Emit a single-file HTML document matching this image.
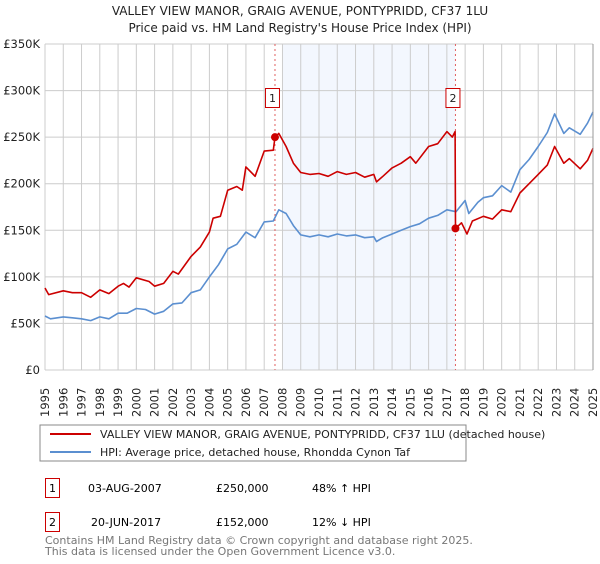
<!DOCTYPE html>
<html><head><meta charset="utf-8"><style>
body{margin:0;background:#fff;font-family:"DejaVu Sans","Liberation Sans",sans-serif;}
svg text{font-family:"DejaVu Sans","Liberation Sans",sans-serif;}
</style></head><body>
<svg id="chart" width="600" height="560" xmlns="http://www.w3.org/2000/svg">
<text x="300" y="15" text-anchor="middle" font-size="12" fill="#222">VALLEY VIEW MANOR, GRAIG AVENUE, PONTYPRIDD, CF37 1LU</text>
<text x="300" y="32" text-anchor="middle" font-size="12" fill="#222">Price paid vs. HM Land Registry's House Price Index (HPI)</text>
<g id="grid"></g><g id="series"></g><g id="axes"></g>
<rect x="40" y="425" width="426" height="36" fill="#fff" stroke="#888"/>
<line x1="50" y1="434" x2="91" y2="434" stroke="#cc0000" stroke-width="2"/>
<text x="100" y="438" font-size="11" fill="#222">VALLEY VIEW MANOR, GRAIG AVENUE, PONTYPRIDD, CF37 1LU (detached house)</text>
<line x1="50" y1="452" x2="91" y2="452" stroke="#5b8fd0" stroke-width="2"/>
<text x="100" y="456" font-size="11" fill="#222">HPI: Average price, detached house, Rhondda Cynon Taf</text>
<g>
<rect x="45.5" y="478.5" width="14" height="19" fill="#fff" stroke="#cc0000"/>
<text x="52.5" y="492" text-anchor="middle" font-size="11">1</text>
<text x="88" y="492" font-size="11">03-AUG-2007</text>
<text x="216" y="492" font-size="11">£250,000</text>
<text x="312" y="492" font-size="11">48% ↑ HPI</text></g>
<g>
<rect x="45.5" y="512.5" width="14" height="19" fill="#fff" stroke="#cc0000"/>
<text x="52.5" y="526" text-anchor="middle" font-size="11">2</text>
<text x="91" y="526" font-size="11">20-JUN-2017</text>
<text x="216" y="526" font-size="11">£152,000</text>
<text x="312" y="526" font-size="11">12% ↓ HPI</text></g>
<text x="45" y="544" font-size="11" fill="#777">Contains HM Land Registry data © Crown copyright and database right 2025.</text>
<text x="45" y="555" font-size="11" fill="#777">This data is licensed under the Open Government Licence v3.0.</text>
</svg>
<script>
const yTicks=[0,50,100,150,200,250,300,350];
const yTickLabels=["£0","£50K","£100K","£150K","£200K","£250K","£300K","£350K"];
const years=[1995,1996,1997,1998,1999,2000,2001,2002,2003,2004,2005,2006,2007,2008,2009,2010,2011,2012,2013,2014,2015,2016,2017,2018,2019,2020,2021,2022,2023,2024,2025];
const hpiT=[1995.0,1995.3,1996,1996.5,1997,1997.5,1998,1998.5,1999,1999.5,2000,2000.5,2001,2001.5,2002,2002.5,2003,2003.5,2004,2004.5,2005,2005.5,2006,2006.5,2007,2007.5,2007.8,2008.2,2008.6,2009,2009.5,2010,2010.5,2011,2011.5,2012,2012.5,2013,2013.15,2013.5,2014,2014.5,2015,2015.5,2016,2016.5,2017,2017.5,2018,2018.2,2018.7,2019,2019.5,2020,2020.5,2021,2021.5,2022,2022.5,2022.9,2023.4,2023.7,2024.3,2024.7,2025];
const hpiV=[58,55,57,56,55,53,57,55,61,61,66,65,60,63,71,72,83,86,100,113,130,135,148,142,159,160,172,168,155,145,143,145,143,146,144,145,142,143,138,142,146,150,154,157,163,166,172,170,182,168,180,185,187,198,191,215,226,240,255,275,254,260,253,265,277];
const redT=[1995.0,1995.2,1996,1996.5,1997,1997.5,1998,1998.5,1999,1999.3,1999.6,2000,2000.7,2001,2001.5,2002,2002.3,2003,2003.5,2004,2004.2,2004.6,2005,2005.5,2005.8,2006.0,2006.5,2007,2007.5,2007.59,2007.8,2008.2,2008.6,2009,2009.5,2010,2010.5,2011,2011.5,2012,2012.5,2013,2013.15,2013.5,2014,2014.5,2015,2015.3,2016,2016.5,2017,2017.3,2017.45,2017.47,2017.8,2018.1,2018.4,2019,2019.5,2020,2020.5,2021,2021.5,2022,2022.5,2022.9,2023.4,2023.7,2024.3,2024.7,2025];
const redV=[88,81,85,83,83,78,86,82,90,93,89,99,95,90,93,106,103,122,132,148,163,165,193,197,193,218,208,235,236,250,254,240,222,212,210,211,208,213,210,212,207,210,202,208,217,222,229,222,240,243,256,250,256,152,158,146,160,165,162,172,170,190,200,210,220,240,222,227,216,225,238];
const sales=[{t:2007.59,v:250,label:"1"},{t:2017.47,v:152,label:"2"}];
const X0=45,X1=593,Y0=370,Y1=44;
const xs=t=>X0+(t-1995)/30*(X1-X0);
const ys=v=>Y0-v/350*(Y0-Y1);
const NS="http://www.w3.org/2000/svg";
function mk(tag,parent,attrs){const e=document.createElementNS(NS,tag);for(const k in attrs)e.setAttribute(k,attrs[k]);parent.appendChild(e);return e;}
const grid=document.getElementById('grid'),ser=document.getElementById('series'),ax=document.getElementById('axes');
const shade=mk('rect',grid,{x:xs(2008),y:Y1,width:xs(2017.47)-xs(2008),height:Y0-Y1,fill:'#eef3fd',opacity:0.7});


years.forEach(y=>{const l=mk('line',grid,{x1:xs(y),x2:xs(y),y1:Y1,y2:Y0,stroke:'#cccccc'});


const t=mk('text',ax,{transform:`translate(${xs(y)+4},${Y0+47}) rotate(-90)`,'font-size':11.5,fill:'#222'});t.textContent=y;

});
yTicks.forEach((v,i)=>{const l=mk('line',grid,{x1:X0,x2:X1,y1:ys(v),y2:ys(v),stroke:'#cccccc'});


const t=mk('text',ax,{x:40,y:ys(v)+4,'text-anchor':'end','font-size':11.5,fill:'#222'});t.textContent=yTickLabels[i];

});
sales.forEach(s=>{const l=mk('line',grid,{x1:xs(s.t),x2:xs(s.t),y1:Y1,y2:Y0,stroke:'#e06060','stroke-dasharray':'2,3'});

});
mk('line',ax,{x1:X1,x2:X1,y1:Y1,y2:Y0,stroke:'#999'});
function path(T,V,col,name){const d=T.map((t,i)=>(i?'L':'M')+xs(t).toFixed(1)+','+ys(V[i]).toFixed(1)).join('');
const p=mk('path',ser,{d:d,fill:'none',stroke:col,'stroke-width':1.6,'stroke-linejoin':'round'});

}
path(hpiT,hpiV,'#5b8fd0','hpi-line');
path(redT,redV,'#cc0000','property-price-line');
sales.forEach(s=>{const c=mk('circle',ser,{cx:xs(s.t),cy:ys(s.v),r:4,fill:'#cc0000'});


const r=mk('rect',ser,{x:xs(s.t)-9.5,y:88.5,width:14,height:19,fill:'#fff',stroke:'#cc0000'});


const t=mk('text',ser,{x:xs(s.t)-2.5,y:102,'text-anchor':'middle','font-size':11,fill:'#222'});t.textContent=s.label;

});
</script>
</body></html>
